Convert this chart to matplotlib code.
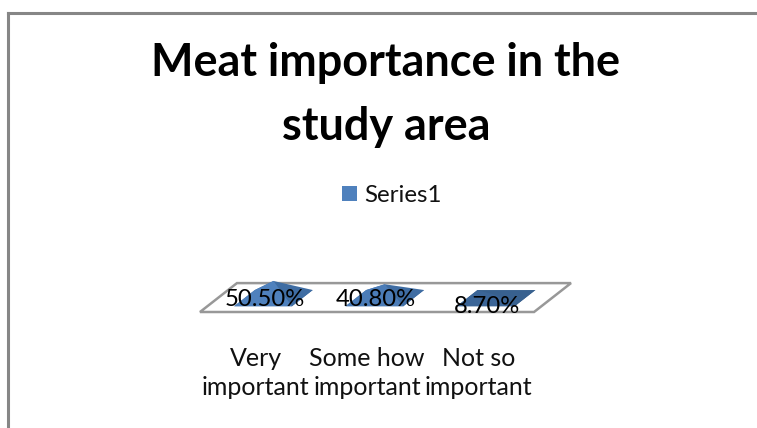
import matplotlib.pyplot as plt
from matplotlib.lines import Line2D
from matplotlib.patches import Polygon, Rectangle

W, H = 757, 428

# chart data
title_lines = ["Meat importance in the", "study area"]
series_name = "Series1"
categories = ["Very\nimportant", "Some how\nimportant", "Not so\nimportant"]
values = [50.5, 40.8, 8.7]
value_labels = ["50.50%", "40.80%", "8.70%"]

# flatter cones catch less light, so each one gets its own shades
front_colors = ["#4F81BD", "#4B7CB7", "#3B6597"]
side_colors = ["#3F6DA3", "#3F6DA3", "#38618F"]


def project(x, depth, z=0):
    # squashed 3D view: depth shifts right and up
    return x + 0.332 * depth, 85 * depth + z


plt.rcParams["font.family"] = ["Lato", "DejaVu Sans"]
fig = plt.figure(figsize=(W / 100, H / 100), dpi=100)

# chart frame, only top and left are visible in the crop
for xs, ys in [([8, W], [12.5, 12.5]), ([8, 8], [12.5, H])]:
    fig.add_artist(Line2D([x / W for x in xs], [1 - y / H for y in ys], color="#868686", lw=2.2))

fig.text(386 / W, 1 - 63 / H, title_lines[0], fontsize=32.4, fontweight="bold", ha="center", va="center", color="black")
fig.text(386 / W, 1 - 127 / H, title_lines[1], fontsize=32.4, fontweight="bold", ha="center", va="center", color="black")

fig.add_artist(Rectangle((342 / W, 1 - 201 / H), 15 / W, 15 / H, transform=fig.transFigure, fc="#4F81BD", ec="none"))
fig.text(364 / W, 1 - 195 / H, series_name, fontsize=17.4, ha="left", va="center", color="#111111")

ax = fig.add_axes([200 / W, 1 - 312 / H, 371 / W, 34 / H])
ax.set_xlim(0, 3.332)
ax.set_ylim(0, 100)
ax.axis("off")

# floor
floor = [project(0, 0), project(3, 0), project(3, 1), project(0, 1)]
ax.add_patch(Polygon(floor, closed=True, fc="white", ec="#989898", lw=1.8, clip_on=False, zorder=1))

half_w = 0.26
d0, d1 = 0.2, 0.76
for i, val in enumerate(values):
    cx = i + 0.5
    fl = project(cx - half_w, d0)
    fr = project(cx + half_w, d0)
    br = project(cx + half_w, d1)
    bl = project(cx - half_w, d1)
    apex = project(cx, (d0 + d1) / 2, val)
    ax.add_patch(Polygon([fl, bl, br, fr], fc=side_colors[i], ec="none", clip_on=False, zorder=2))
    ax.add_patch(Polygon([bl, apex, br, fr], fc=side_colors[i], ec="none", clip_on=False, zorder=2))
    ax.add_patch(Polygon([fl, bl, apex, fr], fc=front_colors[i], ec="none", clip_on=False, zorder=3))

# labels sit on the bars
label_y = [38, 38, 17]
for i, txt in enumerate(value_labels):
    ax.text(i + 0.58, label_y[i], txt, fontsize=17.2, ha="center", va="center", color="black", zorder=5, clip_on=False)

for i, txt in enumerate(categories):
    ax.text(i + 0.5, -104, txt, fontsize=18, ha="center", va="top", linespacing=1.3, color="#111111", clip_on=False)

fig.savefig("out.png", dpi=100)
plt.close(fig)
